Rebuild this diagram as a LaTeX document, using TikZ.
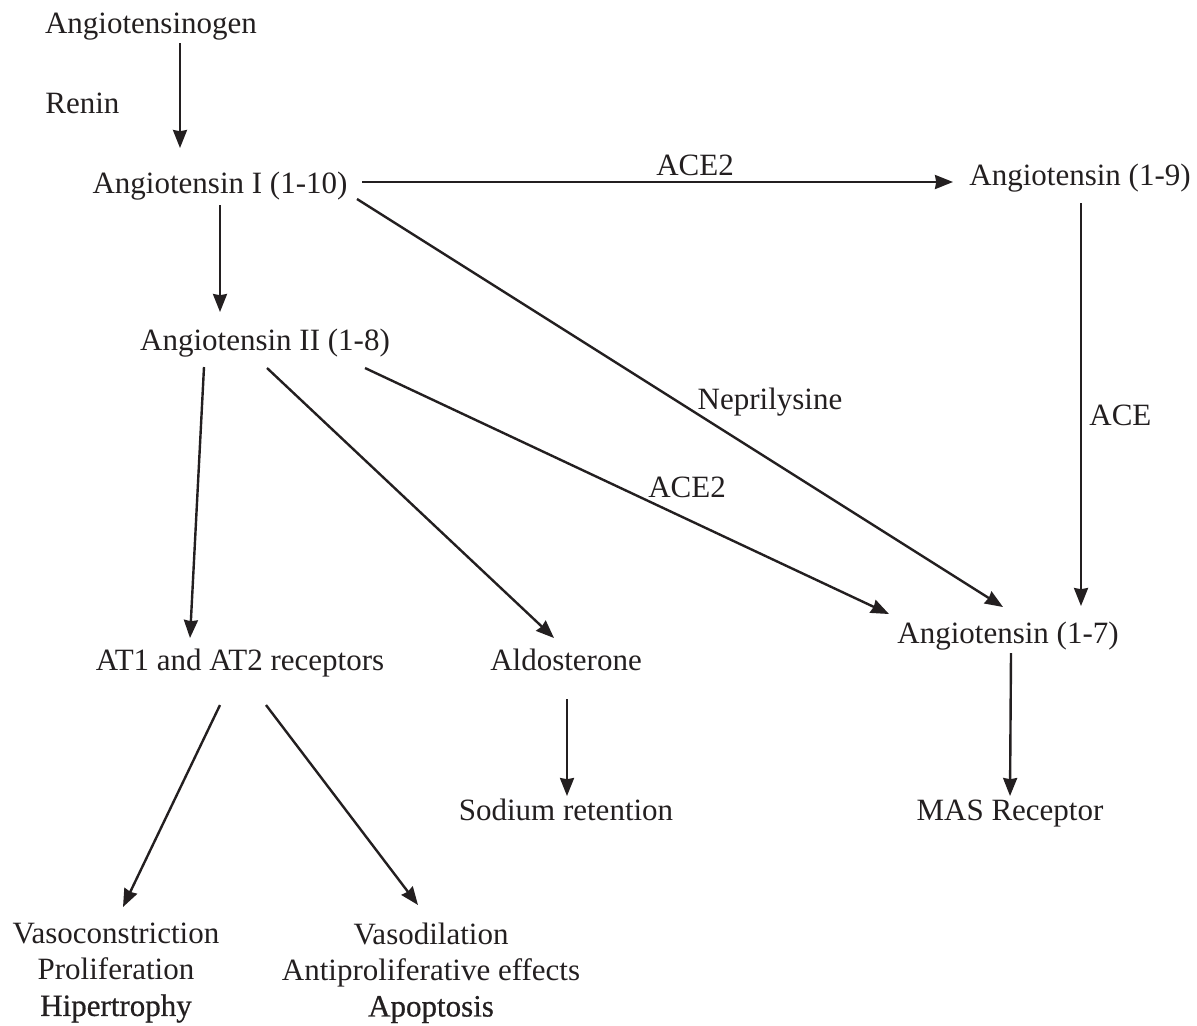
\documentclass[tikz,border=0pt]{standalone}
\usepackage{fontspec}
\setmainfont{Liberation Serif}
\usetikzlibrary{arrows.meta,calc}
\definecolor{ink}{HTML}{231F20}
\newcommand{\hb}{\addfontfeature{FakeBold=0.6}}
\begin{document}
\begin{tikzpicture}[x=0.5pt,y=-0.5pt,
  lbl/.style={inner sep=0pt,font=\fontsize{15.5}{18}\selectfont,text=ink},
  arr/.style={draw=ink,line width=1.2pt,-{Stealth[length=9pt,width=7pt,inset=0.6pt]}}]
\useasboundingbox (0,0) rectangle (1197,1025);
% nodes
\node[lbl,anchor=base] (agen) at (151,33) {Angiotensinogen};
\node[lbl,anchor=base west] (renin) at (45,113) {Renin};
\node[lbl,anchor=base] (ang1) at (220,193) {Angiotensin I (1-10)};
\node[lbl,anchor=base] (ace2a) at (695,175) {ACE2};
\node[lbl,anchor=base] (ang19) at (1080,185) {Angiotensin (1-9)};
\node[lbl,anchor=base] (ang2) at (265,350) {Angiotensin II (1-8)};
\node[lbl,anchor=base] (nep) at (770,409) {Neprilysine};
\node[lbl,anchor=base west] (ace) at (1089,425) {ACE};
\node[lbl,anchor=base] (ace2b) at (687,497) {ACE2};
\node[lbl,anchor=base] (ang17) at (1008,643) {Angiotensin (1-7)};
\node[lbl,anchor=base] (at) at (240,670) {AT1 and AT2 receptors};
\node[lbl,anchor=base] (aldo) at (566,670) {Aldosterone};
\node[lbl,anchor=base] (sod) at (566,820) {Sodium retention};
\node[lbl,anchor=base] (mas) at (1010,820) {MAS Receptor};
\node[lbl,align=center] (vc) at (116,973) {Vasoconstriction\\Proliferation\\{\hb Hipertrophy}};
\node[lbl,align=center] (vd) at (431,973) {Vasodilation\\Antiproliferative effects\\{\hb Apoptosis}};
% connectors
\draw[arr] ($(agen.base)+(29,10)$) -- ($(ang1.base)+(-40,-45)$);
\draw[arr] ($(ang1.base)+(142,-11)$) -- ($(ang19.base)+(-127,-3)$);
\draw[arr] ($(ang1.base)+(137,6)$) -- ($(ang17.base)+(-5,-36)$);
\draw[arr] ($(ang1.base)+(0,12)$) -- ($(ang2.base)+(-45,-38)$);
\draw[arr] ($(ang19.base)+(1,18)$) -- ($(ang17.base)+(73,-37)$);
\draw[arr] ($(ang2.base)+(-61,17)$) -- ($(at.base)+(-50,-32)$);
\draw[arr] ($(ang2.base)+(2,18)$) -- ($(aldo.base)+(-12,-32)$);
\draw[arr] ($(ang2.base)+(100,18)$) -- ($(ang17.base)+(-119,-29)$);
\draw[arr] ($(aldo.base)+(1,29)$) -- ($(sod.base)+(1,-24)$);
\draw[arr] ($(ang17.base)+(3,10)$) -- ($(mas.base)+(0,-24)$);
\draw[arr] ($(at.base)+(-20,35)$) -- ($(vc.center)+(7,-66)$);
\draw[arr] ($(at.base)+(26,35)$) -- ($(vd.center)+(-13,-68)$);
\end{tikzpicture}
\end{document}
